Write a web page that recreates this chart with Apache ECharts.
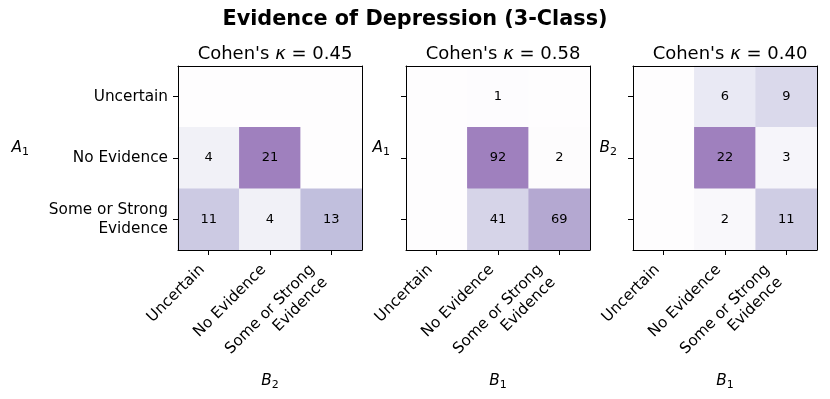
<!DOCTYPE html>
<html>
<head>
<meta charset="utf-8">
<script src="https://cdn.jsdelivr.net/npm/echarts@6/dist/echarts.min.js"></script>
<style>
html, body { margin: 0; padding: 0; background: #fff; }
#chart { width: 830px; height: 399px; }
</style>
</head>
<body>
<div id="chart"></div>
<script>
// categories (same for rows and columns)
var classes = ['Uncertain', 'No Evidence', 'Some or Strong\nEvidence']

// counts, rows top -> bottom, columns left -> right
var countsA1B2 = [[0, 0, 0], [4, 21, 0], [11, 4, 13]]
var countsA1B1 = [[0, 1, 0], [0, 92, 2], [0, 41, 69]]
var countsB2B1 = [[0, 6, 9], [0, 22, 3], [0, 2, 11]]

var kappas = ['0.45', '0.58', '0.40']
var rowRaters = [['A', '1'], ['A', '1'], ['B', '2']]
var colRaters = [['B', '2'], ['B', '1'], ['B', '1']]

var FONT = 'DejaVu Sans'
// Purples colormap drawn at alpha 0.5 on white
var purples = ['#fefdfe', '#f7f6fa', '#ececf5', '#dedeee', '#cfcde4', '#c0bedd', '#b4a8d1', '#aa93c7', '#9f80be']

var panels = [countsA1B2, countsA1B1, countsB2B1]
var lefts = [178, 406, 633]
var plotSize = 184
var plotTop = 66

function toCells(m) {
  var out = []
  m.forEach(function(row, r) {
    row.forEach(function(v, c) { out.push([c, r, v]) })
  })
  return out
}

function maxOf(m) {
  return Math.max.apply(null, m.map(function(row) { return Math.max.apply(null, row) }))
}

function xTick(v) {
  if (v.indexOf('\n') >= 0) {
    return v.split('\n').map(function(s) { return '{two|' + s + '}' }).join('\n')
  }
  return '{one|' + v + '}'
}

var nameRich = {
  i: { fontFamily: FONT, fontStyle: 'italic', fontSize: 15.3, color: '#000' },
  s: { fontFamily: FONT, fontSize: 11, color: '#000', padding: [9, 0, 0, 0] }
}

var grids = [], xAxes = [], yAxes = [], series = [], visualMaps = []
var titles = [{
  text: 'Evidence of Depression (3-Class)',
  left: 'center',
  top: 4,
  textStyle: { fontFamily: FONT, fontWeight: 'bold', fontSize: 20.8, color: '#000' }
}]

panels.forEach(function(m, i) {
  grids.push({ left: lefts[i], top: plotTop, width: plotSize, height: plotSize })
  titles.push({
    text: "Cohen's {k|κ} = " + kappas[i],
    left: lefts[i] + plotSize / 2,
    textAlign: 'center',
    top: 40,
    textStyle: {
      fontFamily: FONT, fontSize: 18, color: '#000', fontWeight: 'normal',
      rich: { k: { fontFamily: FONT, fontStyle: 'italic', fontSize: 18, color: '#000' } }
    }
  })
  xAxes.push({
    type: 'category', gridIndex: i, data: classes, position: 'bottom', z: 10,
    axisLine: { show: true, lineStyle: { color: '#000', width: 1 } },
    axisTick: { show: true, alignWithLabel: true, length: 5, lineStyle: { color: '#000' } },
    axisLabel: {
      rotate: 45, margin: 11, color: '#000', fontFamily: FONT, fontSize: 15.3,
      formatter: xTick,
      rich: {
        one: { fontFamily: FONT, fontSize: 15.3, color: '#000', padding: [0, 9, 0, 0] },
        two: { fontFamily: FONT, fontSize: 15.3, color: '#000', lineHeight: 18, padding: [0, 18, 0, 0] }
      }
    },
    splitLine: { show: false },
    name: '{i|' + colRaters[i][0] + '}{s|' + colRaters[i][1] + '}',
    nameLocation: 'middle',
    nameGap: 121,
    nameTextStyle: { rich: nameRich }
  })
  xAxes.push({
    type: 'category', gridIndex: i, data: classes, position: 'top', z: 10,
    axisLine: { show: true, lineStyle: { color: '#000', width: 1 } },
    axisTick: { show: false }, axisLabel: { show: false }, splitLine: { show: false }
  })
  yAxes.push({
    type: 'category', gridIndex: i, data: classes, inverse: true, position: 'left', z: 10,
    axisLine: { show: true, lineStyle: { color: '#000', width: 1 } },
    axisTick: { show: true, alignWithLabel: true, length: 5, lineStyle: { color: '#000' } },
    axisLabel: {
      show: i === 0, margin: 10, color: '#000', fontFamily: FONT, fontSize: 15.3,
      lineHeight: 18.5, align: 'right'
    },
    splitLine: { show: false },
    name: '{i|' + rowRaters[i][0] + '}{s|' + rowRaters[i][1] + '}',
    nameLocation: 'middle',
    nameRotate: 0,
    nameGap: i === 0 ? 149 : 16,
    nameTextStyle: { rich: nameRich, align: 'right', verticalAlign: 'bottom' }
  })
  yAxes.push({
    type: 'category', gridIndex: i, data: classes, inverse: true, position: 'right', z: 10,
    axisLine: { show: true, lineStyle: { color: '#000', width: 1 } },
    axisTick: { show: false }, axisLabel: { show: false }, splitLine: { show: false }
  })
  series.push({
    type: 'heatmap',
    xAxisIndex: 2 * i,
    yAxisIndex: 2 * i,
    data: toCells(m),
    label: {
      show: true,
      color: '#000',
      fontFamily: FONT,
      fontSize: 13,
      formatter: function(p) { return p.value[2] ? String(p.value[2]) : '' }
    },
    emphasis: { disabled: true },
    itemStyle: { borderWidth: 0 }
  })
  visualMaps.push({
    show: false, seriesIndex: i, dimension: 2,
    min: 0, max: maxOf(m),
    inRange: { color: purples }
  })
})

var myChart = echarts.init(document.getElementById('chart'))
myChart.setOption({
  animation: false,
  backgroundColor: '#fff',
  title: titles,
  grid: grids,
  xAxis: xAxes,
  yAxis: yAxes,
  visualMap: visualMaps,
  series: series
})
</script>
</body>
</html>
